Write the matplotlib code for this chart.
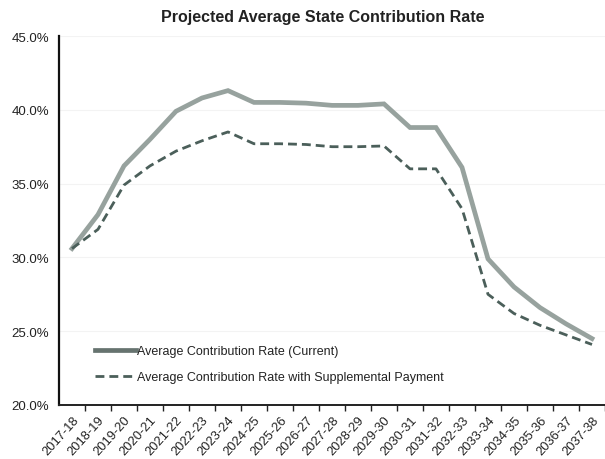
import matplotlib
matplotlib.use("Agg")
import matplotlib.pyplot as plt
from matplotlib.lines import Line2D
from matplotlib.ticker import FuncFormatter, MultipleLocator
import numpy as np

plt.rcParams['font.family'] = ['Liberation Sans', 'DejaVu Sans']

# fiscal years on the x axis
years = ['2017-18', '2018-19', '2019-20', '2020-21', '2021-22', '2022-23', '2023-24',
         '2024-25', '2025-26', '2026-27', '2027-28', '2028-29', '2029-30', '2030-31',
         '2031-32', '2032-33', '2033-34', '2034-35', '2035-36', '2036-37', '2037-38']

# average state contribution rate, percent of payroll
current_rate = [30.6, 32.9, 36.2, 38.0, 39.9, 40.8, 41.3, 40.5, 40.5, 40.45, 40.3,
                40.3, 40.4, 38.8, 38.8, 36.1, 29.9, 28.0, 26.6, 25.5, 24.5]
supplemental_rate = [30.6, 31.9, 34.9, 36.2, 37.2, 37.9, 38.5, 37.7, 37.7, 37.65, 37.5,
                     37.5, 37.55, 36.0, 36.0, 33.3, 27.5, 26.2, 25.4, 24.75, 24.1]

labels = ['Average Contribution Rate (Current)',
          'Average Contribution Rate with Supplemental Payment']

solid_color = '#97a29e'
dash_color = '#4b5f5a'
text_color = '#222222'

fig = plt.figure(figsize=(6.05, 4.6), dpi=100)
ax = fig.add_axes([59 / 605, 54 / 460, 546 / 605, 369 / 460])

x = np.arange(len(years))
ax.plot(x, current_rate, color=solid_color, lw=3.4, solid_joinstyle='miter')
ax.plot(x, supplemental_rate, color=dash_color, lw=2.0, dashes=(3.2, 1.8))

ax.set_xlim(-0.5, 20.22)
ax.set_ylim(20, 45)

# y axis
ax.yaxis.set_major_locator(MultipleLocator(5))
ax.yaxis.set_major_formatter(FuncFormatter(lambda v, p: f'{v:.1f}%'))
ax.tick_params(axis='y', length=0, pad=7, labelsize=9.5, labelcolor=text_color)
ax.grid(axis='y', color='#f3f3f3', lw=0.8)

# x axis: labels at categories, tick marks between them
ax.set_xticks(x)
ax.set_xticklabels(years, rotation=48, ha='right', rotation_mode='anchor')
ax.tick_params(axis='x', length=0, pad=6, labelsize=9.3, labelcolor=text_color)
ax.set_xticks(np.arange(len(years)) + 0.5, minor=True)
ax.tick_params(axis='x', which='minor', length=4, width=1.0, color='#222222', direction='out')

for side in ['top', 'right']:
    ax.spines[side].set_visible(False)
ax.spines['left'].set_linewidth(1.6)
ax.spines['bottom'].set_linewidth(1.4)
ax.spines['left'].set_color('#111111')
ax.spines['bottom'].set_color('#222222')

handles = [Line2D([], [], color='#66736f', lw=3.4),
           Line2D([], [], color=dash_color, lw=2.0, dashes=(3.2, 1.8))]
leg = ax.legend(handles, labels, loc='lower left', bbox_to_anchor=(0.045, 0.028),
                frameon=False, fontsize=9, handlelength=3.3, handletextpad=0.1,
                labelspacing=1.12, labelcolor=text_color)

fig.text(0.533, 0.962, 'Projected Average State Contribution Rate', ha='center', va='center',
         fontsize=11.5, fontweight='bold', color=text_color)

fig.savefig('out.png', dpi=100)
